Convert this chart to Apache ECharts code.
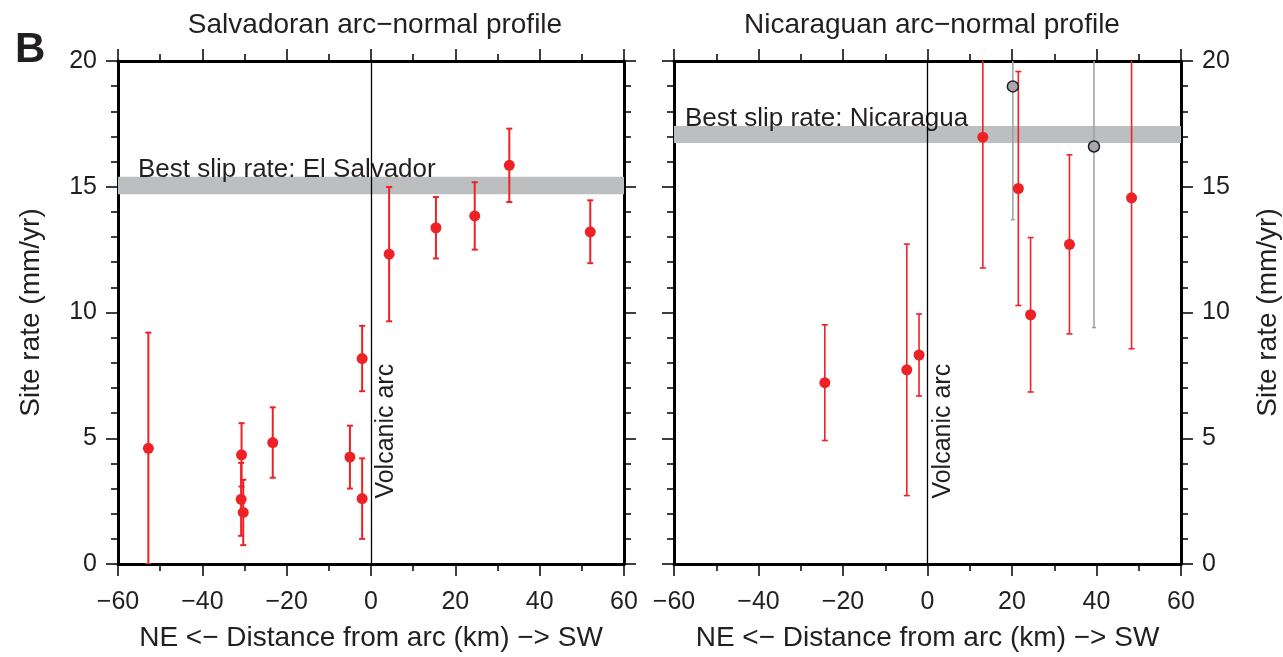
<!DOCTYPE html>
<html>
<head>
<meta charset="utf-8">
<script src="https://cdn.jsdelivr.net/npm/echarts@6/dist/echarts.min.js"></script>
<style>
html,body{margin:0;padding:0;background:#fff;}
#chart{width:1283px;height:657px;}
</style>
</head>
<body>
<div id="chart"></div>
<script>
// ---- data ----
const salvDist = [-52.8, -30.7, -30.8, -30.3, -23.3, -5.0, -2.1, -2.1, 4.3, 15.4, 24.6, 32.8, 52.0];
const salvRate = [4.6, 4.34, 2.57, 2.05, 4.83, 4.25, 2.6, 8.17, 12.32, 13.37, 13.84, 15.85, 13.21];
const salvErr  = [4.6, 1.26, 1.45, 1.3, 1.4, 1.25, 1.6, 1.3, 2.67, 1.22, 1.34, 1.46, 1.25];

const nicaDist = [-24.3, -4.9, -2.0, 13.1, 21.5, 24.4, 33.6, 48.3];
const nicaRate = [7.21, 7.72, 8.31, 16.97, 14.93, 9.91, 12.71, 14.56];
const nicaErr  = [2.3, 5.0, 1.63, 5.2, 4.65, 3.07, 3.56, 6.0];

const nicaOutDist = [20.2, 39.4];
const nicaOutRate = [18.99, 16.60];
const nicaOutErr  = [5.3, 7.2];

const salvBand = [14.7, 15.4];
const nicaBand = [16.74, 17.42];

const xTicks = {min: -60, max: 60, interval: 20};
const yTicks = {min: 0, max: 20, interval: 5};

const titles = ['Salvadoran arc\u2212normal profile', 'Nicaraguan arc\u2212normal profile'];
const xName = 'NE <\u2212 Distance from arc (km) \u2212> SW';
const yName = 'Site rate (mm/yr)';
const bandLabels = ['Best slip rate: El Salvador', 'Best slip rate: Nicaragua'];
const arcLabel = 'Volcanic arc';

// ---- styling ----
const FONT = '"Liberation Sans", Arial, Helvetica, sans-serif';
const TXT = '#231f20';
const RED = '#ec2227';
const fmt = v => (v < 0 ? '\u2212' + Math.abs(v) : String(v));

function barData(xs, ys, es) {
  return xs.map((x, i) => [x, ys[i] - es[i], ys[i] + es[i]]);
}
function ptData(xs, ys) { return xs.map((x, i) => [x, ys[i]]); }

function errorBarSeries(xi, yi, data, color, width, cap) {
  return {
    type: 'custom', xAxisIndex: xi, yAxisIndex: yi, clip: true, z: 3,
    data: data,
    encode: {x: 0, y: [1, 2]},
    renderItem: function (params, api) {
      const x = api.value(0);
      const lo = api.coord([x, api.value(1)]);
      const hi = api.coord([x, api.value(2)]);
      const st = {stroke: color, lineWidth: width};
      return {
        type: 'group',
        children: [
          {type: 'line', shape: {x1: lo[0], y1: lo[1], x2: hi[0], y2: hi[1]}, style: st},
          {type: 'line', shape: {x1: lo[0] - cap, y1: lo[1], x2: lo[0] + cap, y2: lo[1]}, style: st},
          {type: 'line', shape: {x1: hi[0] - cap, y1: hi[1], x2: hi[0] + cap, y2: hi[1]}, style: st}
        ]
      };
    }
  };
}

function annotationSeries(xi, yi, band, bandText, bandDx) {
  return {
    type: 'custom', xAxisIndex: xi, yAxisIndex: yi, z: 4, silent: true,
    data: [[0]],
    renderItem: function (params, api) {
      const b = api.coord([xTicks.min, band[1]]);
      const a = api.coord([0, 2.6]);
      return {
        type: 'group',
        children: [
          {type: 'text', x: b[0] + bandDx, y: b[1] + 6,
           style: {text: bandText, font: '26px ' + FONT, fill: TXT, align: 'left', verticalAlign: 'bottom'}},
          {type: 'text', x: a[0] + 3, y: a[1], rotation: Math.PI / 2,
           style: {text: arcLabel, font: '25px ' + FONT, fill: TXT, align: 'left', verticalAlign: 'top'}}
        ]
      };
    }
  };
}

function xAxisDef(gi, pos, labels) {
  return {
    type: 'value', gridIndex: gi, position: pos,
    min: xTicks.min, max: xTicks.max, interval: xTicks.interval,
    name: labels ? xName : '', nameLocation: 'middle', nameGap: 60,
    nameTextStyle: {fontFamily: FONT, fontSize: 28, color: TXT},
    axisLine: {show: true, onZero: false, lineStyle: {color: '#000', width: 3}},
    axisTick: {show: true, inside: false, length: 12, lineStyle: {color: '#000', width: 1.5}},
    minorTick: {show: true, splitNumber: 2, length: 7, lineStyle: {color: '#000', width: 1.5}},
    axisLabel: {show: labels, formatter: fmt, margin: 26, fontFamily: FONT, fontSize: 25, color: TXT},
    splitLine: {show: false}, minorSplitLine: {show: false}
  };
}
function yAxisDef(gi, pos, labels) {
  return {
    type: 'value', gridIndex: gi, position: pos,
    min: yTicks.min, max: yTicks.max, interval: yTicks.interval,
    name: labels ? yName : '', nameLocation: 'middle', nameGap: 73, nameRotate: 90,
    nameTextStyle: {fontFamily: FONT, fontSize: 28, color: TXT},
    axisLine: {show: true, onZero: false, lineStyle: {color: '#000', width: 3}},
    axisTick: {show: true, inside: false, length: 12, lineStyle: {color: '#000', width: 1.5}},
    minorTick: {show: true, splitNumber: 5, length: 7, lineStyle: {color: '#000', width: 1.5}},
    axisLabel: {show: labels, margin: 21, fontFamily: FONT, fontSize: 25, color: TXT},
    splitLine: {show: false}, minorSplitLine: {show: false}
  };
}

function pointsSeries(xi, yi, data, band, size, fill, border, bw, withMarks) {
  const s = {
    type: 'scatter', xAxisIndex: xi, yAxisIndex: yi, z: 5,
    data: data, symbol: 'circle', symbolSize: size,
    itemStyle: {color: fill, borderColor: border, borderWidth: bw, opacity: 1},
    emphasis: {disabled: true}
  };
  if (withMarks) {
    s.markArea = {silent: true, itemStyle: {color: '#bcbec0', opacity: 1},
      data: [[{yAxis: band[0]}, {yAxis: band[1]}]]};
    s.markLine = {silent: true, symbol: 'none', animation: false,
      lineStyle: {color: '#000', width: 1.3, type: 'solid'}, label: {show: false},
      data: [{xAxis: 0}]};
  }
  return s;
}

const chart = echarts.init(document.getElementById('chart'), null, {renderer: 'canvas'});
chart.setOption({
  animation: false,
  backgroundColor: '#fff',
  title: [
    {text: 'B', left: 10, top: 24, textStyle: {fontFamily: FONT, fontSize: 42, fontWeight: 'bold', color: TXT}},
    {text: titles[0], left: 370, top: 6, textAlign: 'center', textStyle: {fontFamily: FONT, fontSize: 28, fontWeight: 'normal', color: TXT}},
    {text: titles[1], left: 927, top: 6, textAlign: 'center', textStyle: {fontFamily: FONT, fontSize: 28, fontWeight: 'normal', color: TXT}}
  ],
  grid: [
    {left: 118, top: 61, width: 506, height: 504},
    {left: 674, top: 61, width: 507, height: 504}
  ],
  xAxis: [xAxisDef(0, 'bottom', true), xAxisDef(0, 'top', false), xAxisDef(1, 'bottom', true), xAxisDef(1, 'top', false)],
  yAxis: [yAxisDef(0, 'left', true), yAxisDef(0, 'right', false), yAxisDef(1, 'left', false), yAxisDef(1, 'right', true)],
  series: [
    errorBarSeries(0, 0, barData(salvDist, salvRate, salvErr), RED, 2, 3),
    pointsSeries(0, 0, ptData(salvDist, salvRate), salvBand, 11, RED, RED, 0, true),
    annotationSeries(0, 0, salvBand, bandLabels[0], 20),
    errorBarSeries(2, 3, barData(nicaOutDist, nicaOutRate, nicaOutErr), '#9d9fa2', 1.5, 2),
    errorBarSeries(2, 3, barData(nicaDist, nicaRate, nicaErr), RED, 1.6, 3),
    pointsSeries(2, 3, ptData(nicaOutDist, nicaOutRate), nicaBand, 11, '#a7a9ac', '#231f20', 1.5, false),
    pointsSeries(2, 3, ptData(nicaDist, nicaRate), nicaBand, 11, RED, RED, 0, true),
    annotationSeries(2, 3, nicaBand, bandLabels[1], 11)
  ]
});
</script>
</body>
</html>
